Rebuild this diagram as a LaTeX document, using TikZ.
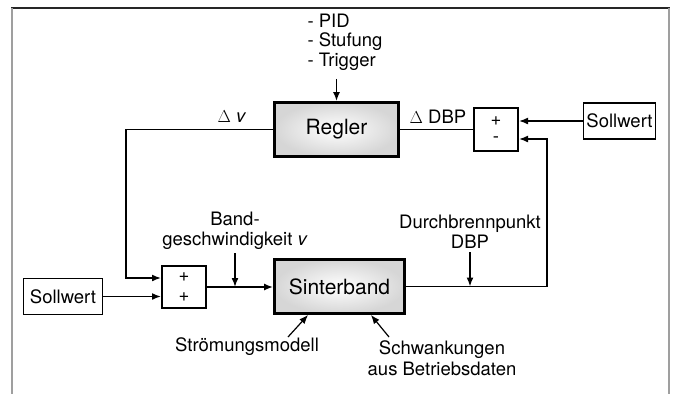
\documentclass[tikz,border=0pt]{standalone}
\usepackage{fontspec}
\setmainfont{TeX Gyre Heros}
\usetikzlibrary{arrows.meta,calc}

\begin{document}
\begin{tikzpicture}[x=1pt,y=-1pt,
  blk/.style={draw,line width=2.8pt,inner color=white,outer color=gray!32,
    minimum width=124pt,minimum height=54pt,font=\fontsize{21}{25}\selectfont},
  sumbox/.style={draw,line width=2pt,fill=white,minimum width=44pt,
    minimum height=43pt,align=center,inner sep=0pt},
  soll/.style={draw,line width=1.8pt,minimum height=36pt,inner sep=2pt,
    font=\fontsize{18.5}{20}\selectfont},
  lbl/.style={font=\fontsize{18.5}{20}\selectfont,align=center},
  sig/.style={line width=1.6pt,-{Latex[length=9pt,width=7pt]}}]
\useasboundingbox (0,0) rectangle (676,394);

% frame
\draw[line width=2pt,black!85] (11,8) -- (669.5,8);
\draw[line width=2pt,gray!75] (12,8) -- (12,394) (669,8) -- (669,394);

% blocks
\node[blk] (regler) at (336.5,129.5) {Regler};
\node[blk,minimum width=130pt] (sinter) at (339.5,286.5) {Sinterband};
\node[sumbox,font=\fontsize{18.5}{17}\selectfont] (sumtop) at (496,129.5) {+\\-};
\node[sumbox,minimum height=42pt,font=\fontsize{18.5}{20}\selectfont] (sumbot) at (184,287) {+\\+};
\node[soll,minimum width=72pt] (sollR) at (619.5,121) {Sollwert};
\node[soll,minimum width=79pt] (sollL) at (63,296.5) {Sollwert};

% labels
\node[lbl] (dvlbl) at (232,117) {$\Delta$ \textit{v}};
\node[lbl] (ddbplbl) at (438,117) {$\Delta$ DBP};
\node[lbl,align=left,font=\fontsize{18.5}{19.5}\selectfont] (pidlbl) at (345,42) {- PID\\- Stufung\\- Trigger};
\node[lbl] (bandlbl) at (235,231) {Band-\\geschwindigkeit \textit{v}};
\node[lbl] (dbplbl) at (470,232) {Durchbrennpunkt\\DBP};
\node[lbl] (stroem) at (247,347) {Strömungsmodell};
\node[lbl,font=\fontsize{18.5}{21.5}\selectfont] (schw) at (442,358) {Schwankungen\\aus Betriebsdaten};

% loop
\coordinate (lcorner) at (126,278);
\coordinate (rtop) at (547,139);
\draw[sig] (regler.west) -| (lcorner) -- (lcorner -| sumbot.west);
\draw[sig] (sollL.east) -- (sollL.east -| sumbot.west);
\draw[sig] (sumbot.east) -- (sumbot.east -| sinter.west);
\draw[sig] (bandlbl.south) -- (bandlbl.south |- sumbot.east);
\draw[sig] (sinter.east) -| (rtop) -- (rtop -| sumtop.east);
\draw[sig] (dbplbl.south) -- (dbplbl.south |- sinter.east);
\draw[sig] (sollR.west) -- (sollR.west -| sumtop.east);
\draw[line width=1.6pt] (regler.east) -- (regler.east -| sumtop.west);
\draw[sig,shorten <=5pt] (pidlbl.south -| regler.north) -- (regler.north);

% disturbances
\coordinate (stroemtip) at (288,337);
\coordinate (schwtip) at (389,337);
\draw[sig,line width=1.2pt] (stroemtip) -- ($(sinter.south west)+(35,0)$);
\draw[sig,line width=1.2pt] (schwtip) -- ($(sinter.south east)+(-35,0)$);
\end{tikzpicture}
\end{document}
